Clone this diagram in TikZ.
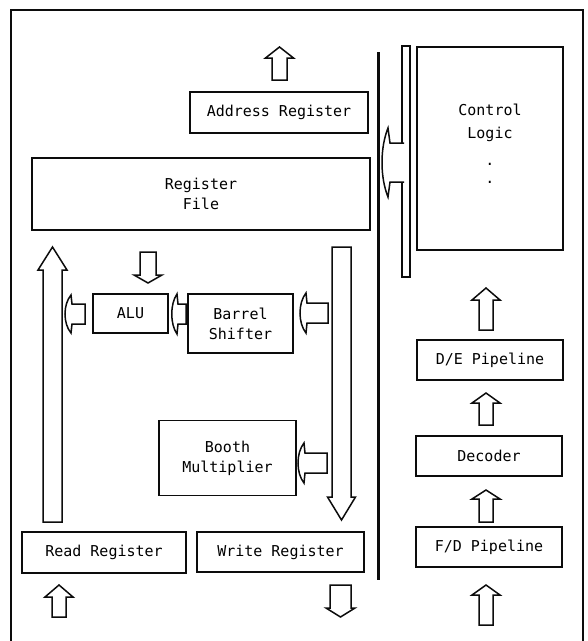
\documentclass[tikz,border=0pt]{standalone}
\usepackage{fontspec}
\setmonofont{DejaVu Sans Mono}
\usetikzlibrary{calc}
\definecolor{inkdark}{RGB}{12, 12, 12}

% hollow block arrows: centre x, tail y, tip y, shaft half width, head half width, head length
\def\hollowup#1#2#3#4#5#6{
    \draw[hollow] (#1-#4,#2) -- (#1-#4,#3+#6) -- (#1-#5,#3+#6) -- (#1,#3)
        -- (#1+#5,#3+#6) -- (#1+#4,#3+#6) -- (#1+#4,#2) -- cycle;
}
\def\hollowdown#1#2#3#4#5#6{
    \draw[hollow] (#1-#4,#2) -- (#1-#4,#3-#6) -- (#1-#5,#3-#6) -- (#1,#3)
        -- (#1+#5,#3-#6) -- (#1+#4,#3-#6) -- (#1+#4,#2) -- cycle;
}
% tail x, head x, centre y, shaft half width, head half width, bulge
\def\hollowleft#1#2#3#4#5#6{
    \draw[hollow] (#1,#3-#4) -- (#2,#3-#4) -- (#2-1,#3-#5)
        .. controls (#2-#6,#3-#5/2) and (#2-#6,#3+#5/2) .. (#2-1,#3+#5)
        -- (#2,#3+#4) -- (#1,#3+#4) -- cycle;
}

\begin{document}
\begin{tikzpicture}[x=1pt, y=-1pt,
    blk/.style={draw=inkdark, line width=1.5pt, fill=white, inner sep=0pt, align=center,
        font=\ttfamily\fontsize{15}{20}\selectfont},
    hollow/.style={draw=inkdark, line width=1.5pt, fill=white}]
    % pixel-sized page
    \useasboundingbox (0,0) rectangle (588,641);

    % ----------------------------------------------------
    % Outer frame
    % ----------------------------------------------------
    \draw[inkdark, line width=1.5pt] (11,641) -- (11,10) -- (583,10) -- (583,641);

    % ----------------------------------------------------
    % LEFT: data path
    % ----------------------------------------------------
    \node[blk, minimum width=178, minimum height=41] (addr) at (279,112.5) {Address Register};
    \node[blk, minimum width=338, minimum height=72] (regfile) at (201,194) {Register\\File};
    \node[blk, minimum width=75, minimum height=39] (alu) at (130.5,313.5) {ALU};
    \node[blk, minimum width=105, minimum height=59] (barrel) at (240.5,323.5) {Barrel\\Shifter};
    \node[blk, minimum width=137, minimum height=75] (booth) at (227.5,458) {Booth\\Multiplier};
    \node[blk, minimum width=164, minimum height=41] (readreg) at (104,552.5) {Read Register};
    \node[blk, minimum width=167, minimum height=40] (writereg) at (280.5,552) {Write Register};

    % Bus between the two halves
    \coordinate (bustop) at (378,52);
    \coordinate (busbot) at (378,580);
    \draw[inkdark, line width=3pt] (bustop) -- (busbot);

    % Block arrows of the data path
    \hollowup{279.5}{80}{47}{7.5}{14}{11}
    \hollowdown{148}{252}{283}{8}{14}{8}
    \hollowup{52.5}{522}{247}{9.5}{14.5}{23}
    \hollowdown{341.5}{247}{520}{9.5}{14}{23}
    \hollowleft{85}{72}{314}{10}{19}{9}
    \hollowleft{186}{178}{314}{10}{20}{8}
    \hollowleft{328}{307}{313}{10}{20}{9}
    \hollowleft{327}{305}{463}{10}{20}{9}
    \hollowup{59}{617}{585}{7}{14}{12}
    \hollowdown{340.5}{585}{617}{10.5}{14.5}{9}

    % ----------------------------------------------------
    % RIGHT: control path
    % ----------------------------------------------------
    \node[blk, minimum width=146, minimum height=203] (ctrl) at (490,148.5)
        {Control\\[3pt]Logic\\[7pt].\\[-2pt].\\[-10pt]};
    \node[blk, minimum width=8, minimum height=231] (bar) at (406,161.5) {};
    \node[blk, minimum width=146, minimum height=40] (depipe) at (490,360) {D/E Pipeline};
    \node[blk, minimum width=146, minimum height=40] (decoder) at (489,456) {Decoder};
    \node[blk, minimum width=146, minimum height=40] (fdpipe) at (489,547) {F/D Pipeline};

    % Control bar onto the bus (open into the bar)
    \path[fill=white, draw=inkdark, line width=1.5pt] (404,143) -- (390,143) -- (388,128)
        .. controls (380,148) and (380,177) .. (388,197) -- (390,182) -- (404,182);

    % Block arrows of the pipeline
    \hollowup{486}{330}{288}{7}{14}{12}
    \hollowup{486}{425}{393}{7}{14}{10}
    \hollowup{486}{522}{490}{7}{14}{9}
    \hollowup{486}{625}{585}{7}{14}{10}

\end{tikzpicture}
\end{document}
